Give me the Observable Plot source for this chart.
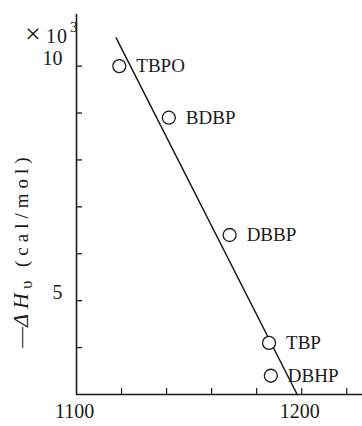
<!DOCTYPE html>
<html>
<head>
<meta charset="utf-8">
<script src="https://cdn.jsdelivr.net/npm/d3@7"></script>
<script src="https://cdn.jsdelivr.net/npm/@observablehq/plot@0.6"></script>
<style>
  html, body { margin: 0; padding: 0; background: #fff; }
  #chart { width: 362px; height: 426px; position: relative; }
</style>
</head>
<body>
<div id="chart"></div>
<script>
// Data (x: unitless quantity, y: −ΔHυ in 10^3 cal/mol)
const solvents = ["TBPO", "BDBP", "DBBP", "TBP", "DBHP"];
const xValues = [1119, 1141, 1168, 1185.5, 1186.3];
const yValues = [10.0, 8.9, 6.4, 4.1, 3.4];

// Fitted straight line end points
const lineX = [1117.6, 1198];
const lineY = [10.6, 3.0];

// Axis ticks
const yTicks = [4, 5, 6, 7, 8, 9, 10];
const yTickLabels = [5, 10];
const xTicks = [1120, 1140, 1160, 1180, 1200, 1220];
const xTickLabels = [1100, 1200];

const points = solvents.map((s, i) => ({name: s, x: xValues[i], y: yValues[i]}));
const line = lineX.map((x, i) => ({x, y: lineY[i]}));

const ink = "#1a1a1a";
const serif = "'Liberation Serif', 'DejaVu Serif', serif";

const chart = Plot.plot({
  width: 362,
  height: 426,
  marginLeft: 76,
  marginRight: 0,
  marginTop: 14,
  marginBottom: 32,
  style: {fontFamily: serif, color: ink, background: "white"},
  x: {domain: [1100, 1227]},
  y: {domain: [3, 11.1]},
  marks: [
    Plot.ruleX([1100], {stroke: ink, strokeWidth: 1.6}),
    Plot.ruleY([3], {stroke: ink, strokeWidth: 1.4}),
    Plot.axisY(yTicks, {anchor: "left", tickSize: -6, strokeWidth: 1.3, stroke: ink, text: null, label: null}),
    Plot.axisY(yTickLabels, {anchor: "left", tickSize: 0, tickPadding: 14, fontSize: 20, dy: -8, label: null, fill: ink}),
    Plot.axisX(xTicks, {anchor: "bottom", tickSize: -6, strokeWidth: 1.2, stroke: ink, text: null, label: null}),
    Plot.axisX(xTickLabels, {anchor: "bottom", tickSize: 0, tickPadding: 9, fontSize: 20, dx: -2, label: null, fill: ink, tickFormat: d => String(d), style: "letter-spacing:0.5px"}),
    Plot.line(line, {x: "x", y: "y", stroke: ink, strokeWidth: 1.5}),
    Plot.dot(points, {x: "x", y: "y", r: 6.5, stroke: ink, strokeWidth: 1.3, fill: "white"}),
    Plot.text(points, {x: "x", y: "y", text: "name", dx: 17, textAnchor: "start", fontSize: 19, fill: ink, style: "letter-spacing:1px"})
  ]
});

document.getElementById("chart").appendChild(chart);

// Axis annotations: multiplier and rotated y label
const svg = d3.select(chart);
const mult = svg.append("text")
  .attr("y", 43)
  .attr("text-anchor", "start")
  .attr("fill", ink);
mult.append("tspan").attr("x", 25).attr("font-size", 28).text("×");
mult.append("tspan").attr("x", 46).attr("font-size", 20).style("letter-spacing", "1px").text("10");
mult.append("tspan").attr("x", 70).attr("dy", -11).attr("font-size", 15).text("3");

const yl = svg.append("text")
  .attr("transform", "translate(28,348) rotate(-90)")
  .attr("text-anchor", "start")
  .attr("fill", ink);
yl.append("tspan").attr("x", 0).attr("font-size", 21).text("—");
yl.append("tspan").attr("x", 21).attr("font-size", 22).attr("font-style", "italic").text("Δ");
yl.append("tspan").attr("x", 39).attr("font-size", 22).attr("font-style", "italic").text("H");
yl.append("tspan").attr("x", 59).attr("dy", 4).attr("font-size", 17).text("υ");
yl.append("tspan").attr("x", 81).attr("dy", -4).attr("font-size", 19).style("letter-spacing", "5px").text("(cal/mol)");
</script>
</body>
</html>
